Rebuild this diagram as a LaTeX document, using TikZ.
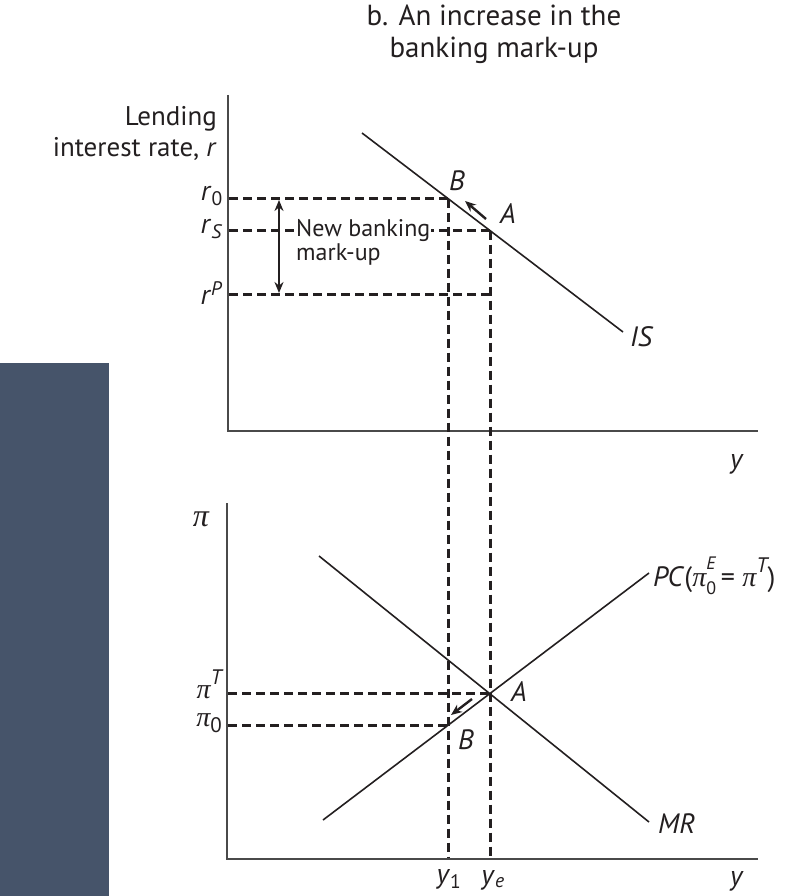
\documentclass[tikz,border=0pt]{standalone}
\usepackage{fontspec}
\setmainfont{PT Sans}
\newfontfamily\grk{Liberation Serif}
\usetikzlibrary{arrows.meta,calc}
\definecolor{ink}{HTML}{231F20}
\definecolor{axisgray}{HTML}{4A4A4A}
\definecolor{slate}{HTML}{46546A}
\newcommand{\gpi}{{\grk\itshape π}}
\newcommand{\scr}{\fontsize{18}{18}\selectfont}
\newcommand{\scrT}{\fontsize{21}{21}\selectfont}
\begin{document}
\begin{tikzpicture}[x=1pt,y=-1pt,
  axisline/.style={line width=1.8pt,draw=axisgray},
  curve/.style={line width=1.6pt,draw=ink},
  guide/.style={line width=3pt,draw=ink,dash pattern=on 9pt off 5pt},
  move/.style={line width=2.4pt,draw=ink,-{Stealth[length=11pt,width=9pt]}},
  lab/.style={font=\fontsize{28}{31}\selectfont,text=ink,inner sep=0pt},
  small/.style={font=\fontsize{24}{24}\selectfont,text=ink}]
\useasboundingbox (0,0) rectangle (808,896);
\fill[slate] (0,363) rectangle (109,896);

% title
\node[lab,align=center,font=\fontsize{29}{32}\selectfont] (title) at (494,34) {b. An increase in the\\banking mark-up};

% ---------- upper panel ----------
\coordinate (uo) at (228,431);
\coordinate (utop) at (228,95);
\coordinate (uend) at (758,431);
\draw[axisline] (utop) -- (uo) -- (uend);
\node[lab,align=right,anchor=east,font=\fontsize{27}{31}\selectfont] (ylab1) at (217,133) {Lending\\interest rate, \textit{r}};
\node[lab] (yax1) at (737,464) {\textit{y}};

\coordinate (IS1) at (362,133);
\coordinate (IS2) at (623,332);
\draw[curve] (IS1) -- (IS2);
\node[lab,anchor=west] (ISl) at (630,337) {\textit{IS}};

\coordinate (Bu) at (448,198.6);
\coordinate (Au) at (490,230.6);
\coordinate (r0) at (229,198.6);
\coordinate (rS) at (229,230.6);
\coordinate (rP) at (229,294);
\coordinate (rPend) at (490,294);
\draw[guide] (r0) -- (Bu);
\draw[guide] (rS) -- (Au);
\draw[guide] (rP) -- (rPend);

\node[lab,anchor=east] (r0l) at (223,196) {\textit{r}\textsubscript{0}};
\node[lab,anchor=east] (rSl) at (223,229) {\textit{r}\textsubscript{\textit{S}}};
\node[lab,anchor=east] (rPl) at (223,293) {\textit{r}\textsuperscript{\textit{P}}};

\coordinate (dt) at (279,200);
\coordinate (db) at (279,293);
\draw[line width=2.2pt,draw=ink,{Stealth[length=11pt,width=9pt]}-{Stealth[length=11pt,width=9pt]}] (dt) -- (db);
\node[small,anchor=west,align=left,fill=white,inner sep=1pt] (mk) at (295,242) {New banking\\mark-up};

\node[lab] (Bul) at (457,181) {\textit{B}};
\node[lab] (Aul) at (508,214) {\textit{A}};
\coordinate (au1) at (486,219);
\coordinate (au2) at (465,201);
\draw[move] (au1) -- (au2);

% ---------- lower panel ----------
\coordinate (lo) at (227,859);
\coordinate (ltop) at (227,503);
\coordinate (lend) at (758,859);
\draw[axisline] (ltop) -- (lo) -- (lend);
\node[lab,font=\fontsize{32}{32}\selectfont] (pil) at (201,519) {\gpi};
\node[lab] (yax2) at (737,881) {\textit{y}};

\coordinate (PC1) at (323,820);
\coordinate (PC2) at (649,573);
\coordinate (MR1) at (319,556);
\coordinate (MR2) at (649,822);
\draw[curve] (PC1) -- (PC2);
\draw[curve] (MR1) -- (MR2);
\node[lab,anchor=west] (PCl) at (653,576) {\textit{PC}(\gpi\rlap{\raisebox{0.62em}{\scr\itshape E}}\raisebox{-0.28em}{\scr 0}\,= \gpi\raisebox{0.5em}{\scrT\itshape T})};
\node[lab,anchor=west] (MRl) at (658,824) {\textit{MR}};

\coordinate (Al) at (490,693.7);
\coordinate (Bl) at (448,725.3);
\coordinate (piT) at (228,693.7);
\coordinate (pi0) at (228,725.3);
\draw[guide] (piT) -- (Al);
\draw[guide] (pi0) -- (Bl);
\node[lab,anchor=east] (piTl) at (222,684) {\gpi\raisebox{0.5em}{\scrT\itshape T}};
\node[lab,anchor=east] (pi0l) at (222,723) {\gpi\raisebox{-0.2em}{\scrT 0}};

% verticals through both panels
\coordinate (y1) at (448,858);
\coordinate (ye) at (490,858);
\draw[guide] (Bu) -- (y1);
\draw[guide] (Au) -- (ye);
\node[lab] (y1l) at (449,879) {\textit{y}\textsubscript{1}};
\node[lab] (yel) at (493,880) {\textit{y}\textsubscript{\textit{e}}};

\node[lab] (All) at (519,692) {\textit{A}};
\node[lab] (Bll) at (466,740) {\textit{B}};
\coordinate (al1) at (472,699);
\coordinate (al2) at (451,715);
\draw[move] (al1) -- (al2);
\end{tikzpicture}
\end{document}
